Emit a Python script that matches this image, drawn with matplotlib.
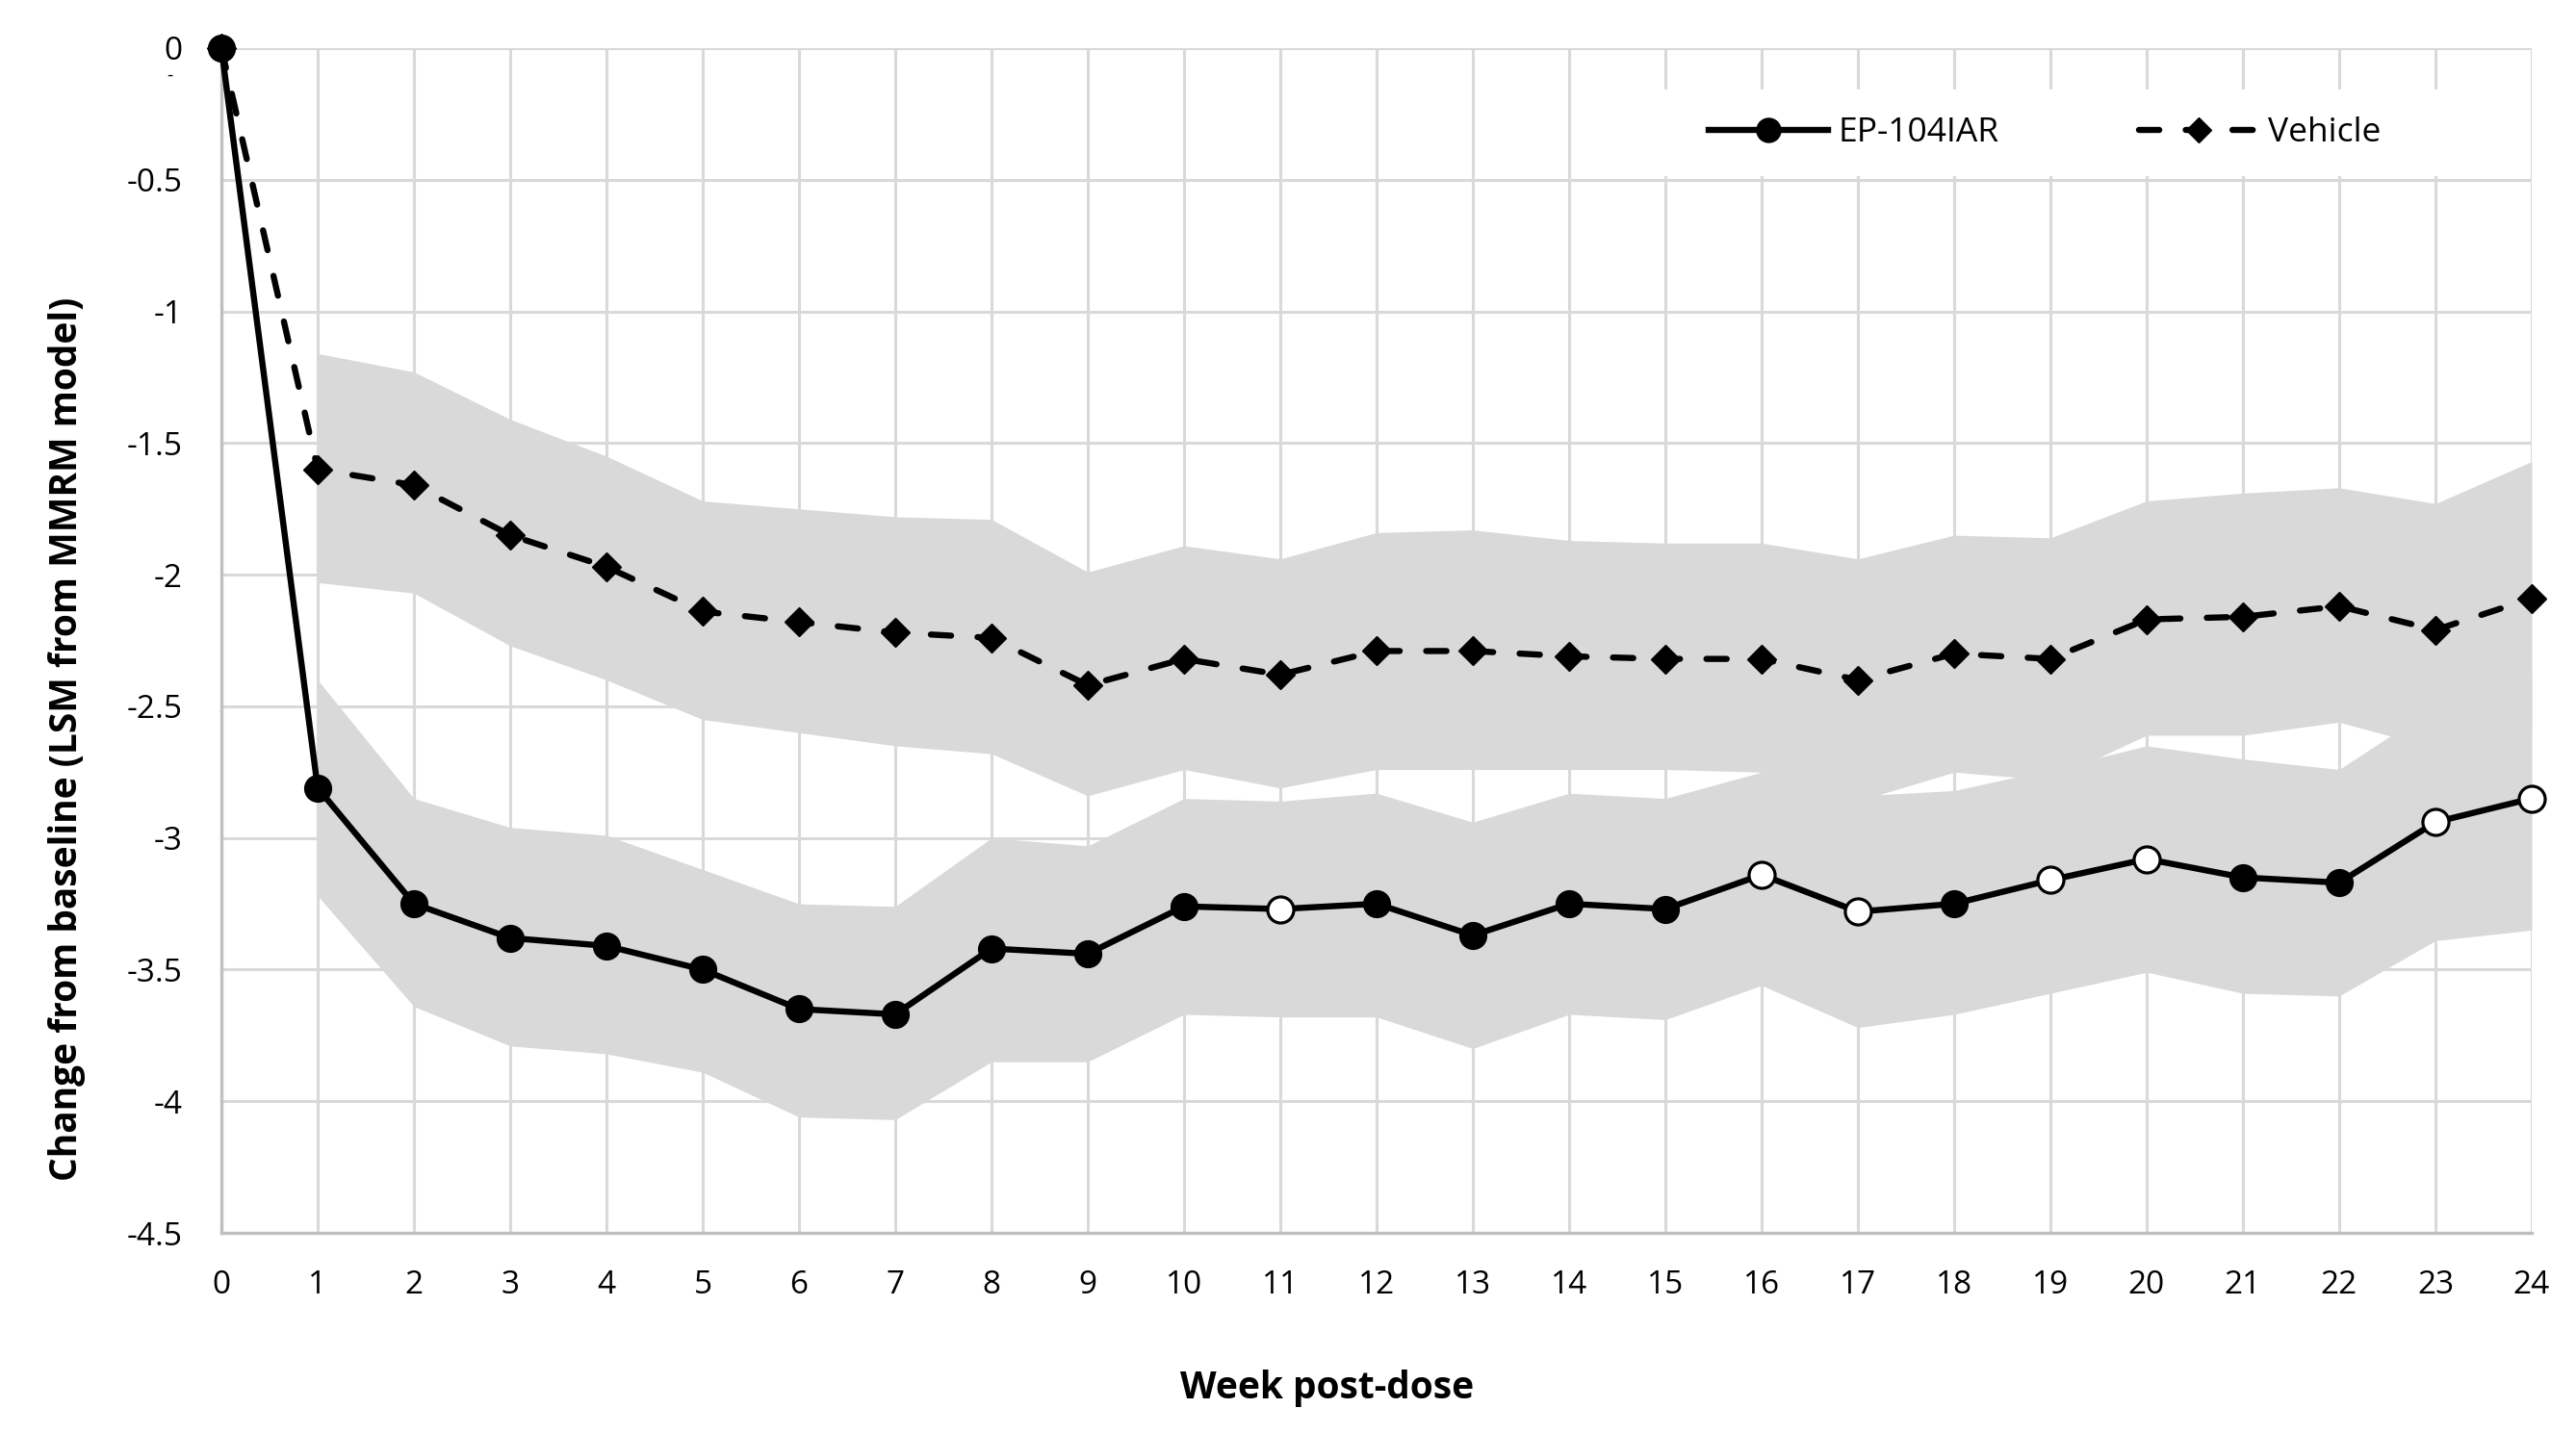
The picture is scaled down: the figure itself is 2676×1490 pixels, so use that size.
import numpy as np
import matplotlib
matplotlib.use("Agg")
import matplotlib.pyplot as plt
from matplotlib import font_manager
from matplotlib.lines import Line2D
from matplotlib.patches import Rectangle

# ---------------- data ----------------
weeks = list(range(0, 25))
ep_mean = [0, -2.81, -3.25, -3.38, -3.41, -3.50, -3.65, -3.67, -3.42, -3.44, -3.26,
           -3.27, -3.25, -3.37, -3.25, -3.27, -3.14, -3.28, -3.25, -3.16, -3.08,
           -3.15, -3.17, -2.94, -2.85]
ep_open_weeks = [11, 16, 17, 19, 20, 23, 24]
veh_mean = [0, -1.60, -1.66, -1.85, -1.97, -2.14, -2.18, -2.22, -2.24, -2.42, -2.32,
            -2.38, -2.29, -2.29, -2.31, -2.32, -2.32, -2.40, -2.30, -2.32, -2.17,
            -2.16, -2.12, -2.21, -2.09]
band_weeks = list(range(1, 25))
ep_upper = [-2.40, -2.85, -2.96, -2.99, -3.12, -3.25, -3.26, -3.00, -3.03, -2.85,
            -2.86, -2.83, -2.94, -2.83, -2.85, -2.75, -2.84, -2.82, -2.74, -2.65,
            -2.70, -2.74, -2.50, -2.37]
ep_lower = [-3.22, -3.64, -3.79, -3.82, -3.89, -4.06, -4.07, -3.85, -3.85, -3.67,
            -3.68, -3.68, -3.80, -3.67, -3.69, -3.56, -3.72, -3.67, -3.59, -3.51,
            -3.59, -3.60, -3.39, -3.35]
veh_upper = [-1.16, -1.23, -1.41, -1.55, -1.72, -1.75, -1.78, -1.79, -1.99, -1.89,
             -1.94, -1.84, -1.83, -1.87, -1.88, -1.88, -1.94, -1.85, -1.86, -1.72,
             -1.69, -1.67, -1.73, -1.57]
veh_lower = [-2.03, -2.07, -2.27, -2.40, -2.55, -2.60, -2.65, -2.68, -2.84, -2.74,
             -2.81, -2.74, -2.74, -2.74, -2.74, -2.75, -2.86, -2.75, -2.78, -2.61,
             -2.61, -2.56, -2.66, -2.60]
yticks = [0, -0.5, -1, -1.5, -2, -2.5, -3, -3.5, -4, -4.5]
series_names = ["EP-104IAR", "Vehicle"]
x_title = "Week post-dose"
y_title = "Change from baseline (LSM from MMRM model)"


# ---------------- fonts ----------------
def has_font(name):
    try:
        font_manager.findfont(font_manager.FontProperties(family=name),
                              fallback_to_default=False)
        return True
    except Exception:
        return False


body_font = "Open Sans" if has_font("Open Sans") else "DejaVu Sans"
if has_font("Liberation Sans Narrow"):
    title_font, title_size = "Liberation Sans Narrow", 35
else:
    title_font, title_size = body_font, 28
plt.rcParams["font.family"] = [body_font, "DejaVu Sans"]

# ---------------- figure ----------------
W, H = 2676, 1490
fig = plt.figure(figsize=(W / 100, H / 100), dpi=100)
ax = fig.add_axes([230 / W, 1 - 1281 / H, 2400 / W, 1231 / H])

ax.set_xlim(0, 24)
ax.set_ylim(-4.5, 0)
ax.set_xticks(weeks)
ax.set_xticklabels([str(w) for w in weeks])
ax.set_yticks(yticks)
ax.set_yticklabels([f"{v:g}" for v in yticks])
ax.tick_params(axis="both", length=0, labelsize=24, colors="black")
ax.tick_params(axis="y", pad=29)
ax.tick_params(axis="x", pad=27)

ax.set_axisbelow(True)
ax.grid(True, color="#d9d9d9", lw=2.2)
for s in ["top", "right"]:
    ax.spines[s].set_visible(False)
for s in ["left", "bottom"]:
    ax.spines[s].set_color("#bfbfbf")
    ax.spines[s].set_linewidth(2.4)
    ax.spines[s].set_zorder(0.7)

# legend background (hides grid lines behind the legend)
ax.add_patch(Rectangle((0.6125, 0.892), 0.367, 0.073, transform=ax.transAxes,
                       facecolor="white", edgecolor="none", zorder=0.8))

# confidence bands
band_col = "#d9d9d9"
ax.fill_between(band_weeks, ep_lower, ep_upper, color=band_col, lw=0, zorder=1)
ax.fill_between(band_weeks, veh_lower, veh_upper, color=band_col, lw=0, zorder=1)

LW = 4.6
# vehicle line
ax.plot(weeks, veh_mean, color="black", lw=LW, ls=(0, (3.3, 4.3)),
        dash_capstyle="round", marker="D", ms=15, mfc="black", mec="black",
        zorder=3, clip_on=False)

# EP-104IAR line
ax.plot(weeks, ep_mean, color="black", lw=LW, zorder=4, clip_on=False)
filled_x = [w for w in weeks if w not in ep_open_weeks]
filled_y = [ep_mean[w] for w in filled_x]
open_x = [w for w in weeks if w in ep_open_weeks]
open_y = [ep_mean[w] for w in open_x]
ax.plot(filled_x, filled_y, ls="none", marker="o", ms=20, mfc="black",
        mec="black", mew=1, zorder=5, clip_on=False)
ax.plot(open_x, open_y, ls="none", marker="o", ms=19.5, mfc="white",
        mec="black", mew=2.3, zorder=5, clip_on=False)

# legend
h1 = Line2D([], [], color="black", lw=LW, marker="o", ms=18, mfc="black", mec="black")
h2 = Line2D([], [], color="black", lw=LW, ls=(0, (3.3, 4.3)), dash_capstyle="round",
            marker="D", ms=13.5, mfc="black", mec="black")
leg = ax.legend([h1, h2], series_names, loc="center left",
                bbox_to_anchor=((1775 - 230) / 2400, (1281 - 138) / 1231),
                ncol=2, frameon=False, handlelength=3.5, handletextpad=0.3,
                columnspacing=4.1, borderpad=0, borderaxespad=0, fontsize=25.5)
leg.set_zorder(6)

# axis titles
fig.text(1379 / W, 1 - 1453 / H, x_title, ha="center", va="baseline",
         fontsize=title_size, fontweight="bold", family=[title_font, "DejaVu Sans"])
fig.text(80 / W, 1 - 768 / H, y_title, ha="center", va="baseline", rotation=90,
         rotation_mode="anchor", fontsize=title_size, fontweight="bold",
         family=[title_font, "DejaVu Sans"])
# small stray dash under the "0" label in the original
fig.text(176 / W, 1 - 79 / H, "-", ha="center", va="center", fontsize=14)

fig.savefig("out.png", dpi=100, facecolor="white")
